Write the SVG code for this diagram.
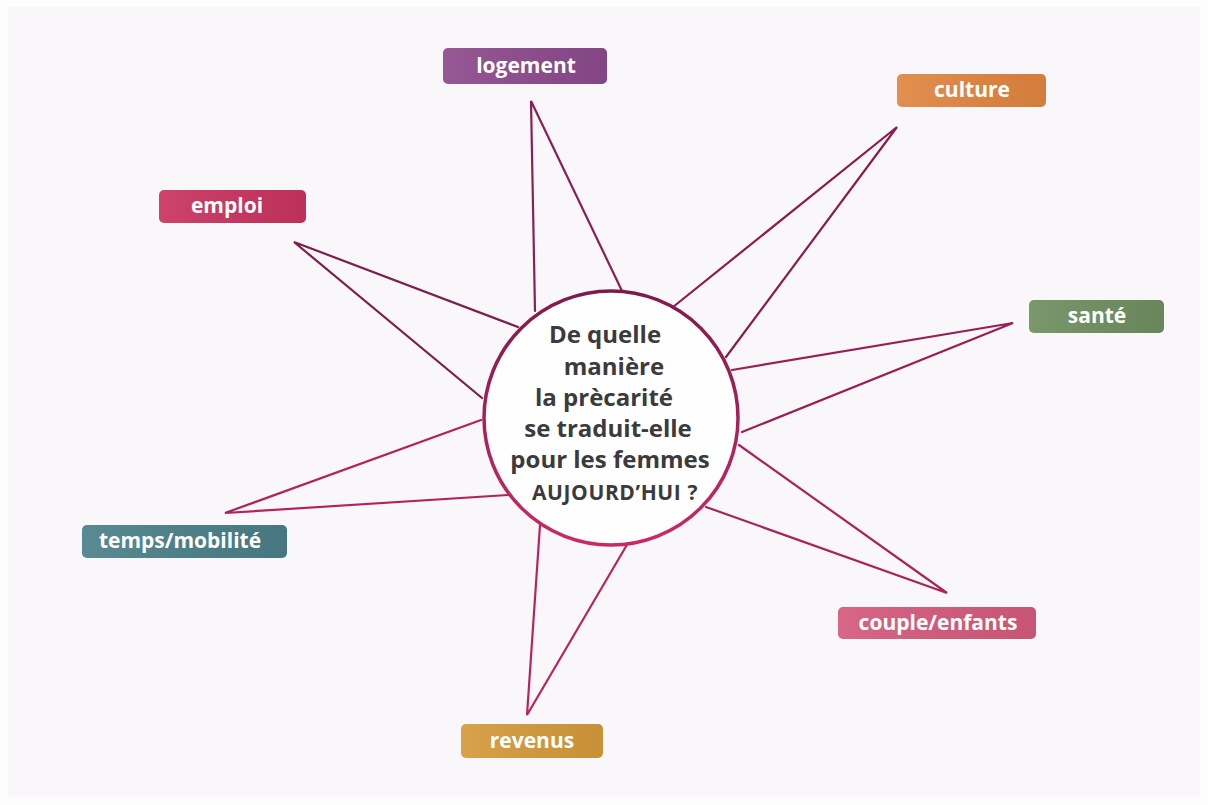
<svg xmlns="http://www.w3.org/2000/svg" width="1208" height="805" viewBox="0 0 1208 805">
<defs>
<style>
.lbl{font-family:"Open Sans","Liberation Sans",sans-serif;font-weight:700;font-size:21px;fill:#ffffff;text-anchor:middle}
.q{font-family:"Open Sans","Liberation Sans",sans-serif;font-weight:700;font-size:24px;fill:#3b3a3c;text-anchor:middle}
.spk{fill:none;stroke-width:2.2;stroke-linejoin:miter;stroke-linecap:round}
</style>
<linearGradient id="ring" x1="0" y1="0" x2="0" y2="1">
<stop offset="0" stop-color="#7e1b4c"/>
<stop offset="1" stop-color="#c92a66"/>
</linearGradient>
<linearGradient id="sheen" x1="0" y1="0" x2="1" y2="0">
<stop offset="0" stop-color="#ffffff" stop-opacity="0.08"/>
<stop offset="1" stop-color="#000000" stop-opacity="0.06"/>
</linearGradient>
</defs>
<rect x="0" y="0" width="1208" height="805" fill="#fdfdfd"/>
<rect x="8" y="7" width="1192" height="790" fill="#f9f7f9"/>
<g id="connectors">
<polyline class="spk" stroke="#8a1f55" points="535,311 531,101 623,293"/>
<polyline class="spk" stroke="#8b1c4e" points="673,307 897,127 726,357"/>
<polyline class="spk" stroke="#9a1f55" points="732,370 1013,323 742,432"/>
<polyline class="spk" stroke="#a8245a" points="739,445 947,593 706,507"/>
<polyline class="spk" stroke="#b8235d" points="540,525 527,715 628,543"/>
<polyline class="spk" stroke="#b3235b" points="481,420 225,513 508,495"/>
<polyline class="spk" stroke="#7d1f4d" points="518,327 294,242 482,398"/>
</g>
<g id="center">
<circle cx="611" cy="418" r="127" fill="#fefefe" stroke="url(#ring)" stroke-width="3.5"/>
<text class="q" x="605" y="343">De quelle</text>
<text class="q" x="614" y="375">manière</text>
<text class="q" x="604" y="406">la prècarité</text>
<text class="q" x="608" y="437">se traduit-elle</text>
<text class="q" x="610" y="468">pour les femmes</text>
<text class="q" x="615" y="500" style="font-size:21px;letter-spacing:0.6px">AUJOURD’HUI ?</text>
</g>
<g id="logement">
<rect x="443" y="48" width="164" height="36" rx="5" fill="#8c4a8c"/>
<rect x="443" y="48" width="164" height="36" rx="5" fill="url(#sheen)"/>
<text class="lbl" x="526" y="73">logement</text>
</g>
<g id="culture">
<rect x="897" y="74" width="149" height="33" rx="5" fill="#e08540"/>
<rect x="897" y="74" width="149" height="33" rx="5" fill="url(#sheen)"/>
<text class="lbl" x="972" y="97">culture</text>
</g>
<g id="sante">
<rect x="1029" y="300" width="135" height="33" rx="5" fill="#6f8f5f"/>
<rect x="1029" y="300" width="135" height="33" rx="5" fill="url(#sheen)"/>
<text class="lbl" x="1097" y="323">santé</text>
</g>
<g id="emploi">
<rect x="159" y="190" width="147" height="33" rx="5" fill="#c9335f"/>
<rect x="159" y="190" width="147" height="33" rx="5" fill="url(#sheen)"/>
<text class="lbl" x="227" y="213">emploi</text>
</g>
<g id="temps">
<rect x="82" y="525" width="205" height="33" rx="5" fill="#4b7f88"/>
<rect x="82" y="525" width="205" height="33" rx="5" fill="url(#sheen)"/>
<text class="lbl" x="180" y="548">temps/mobilité</text>
</g>
<g id="revenus">
<rect x="461" y="724" width="142" height="34" rx="5" fill="#d49a3c"/>
<rect x="461" y="724" width="142" height="34" rx="5" fill="url(#sheen)"/>
<text class="lbl" x="532" y="748">revenus</text>
</g>
<g id="couple">
<rect x="838" y="607" width="198" height="32" rx="5" fill="#d45a7c"/>
<rect x="838" y="607" width="198" height="32" rx="5" fill="url(#sheen)"/>
<text class="lbl" x="938" y="630">couple/enfants</text>
</g>
</svg>
